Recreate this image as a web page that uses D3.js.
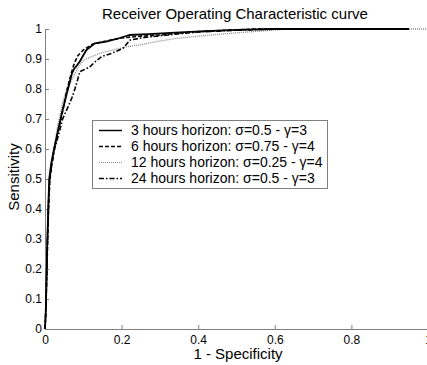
<!DOCTYPE html>
<html>
<head>
<meta charset="utf-8">
<script src="https://cdn.jsdelivr.net/npm/d3@7"></script>
<style>
  body { margin: 0; background: #fff; }
  text { font-family: "Liberation Sans", Arial, sans-serif; }
</style>
</head>
<body>
<div id="chart"></div>
<script>
const width = 427
const height = 365

// ROC curves (x = 1 - specificity, y = sensitivity)
const fpr3 = [0, 0.002, 0.004, 0.006, 0.009, 0.011, 0.016, 0.022, 0.034, 0.044, 0.052, 0.062, 0.07, 0.075, 0.09, 0.108, 0.13, 0.16, 0.195, 0.22, 0.27, 0.34, 0.42, 0.5, 0.6, 0.95]
const tpr3 = [0, 0.06, 0.17, 0.29, 0.42, 0.5, 0.55, 0.59, 0.66, 0.72, 0.76, 0.81, 0.85, 0.865, 0.89, 0.93, 0.952, 0.958, 0.97, 0.98, 0.983, 0.988, 0.993, 0.997, 1, 1]

const fpr6 = [0, 0.002, 0.004, 0.007, 0.01, 0.013, 0.018, 0.024, 0.032, 0.042, 0.05, 0.058, 0.066, 0.075, 0.085, 0.1, 0.125, 0.16, 0.2, 0.24, 0.3, 0.38, 0.46, 0.55, 0.95]
const tpr6 = [0, 0.05, 0.15, 0.3, 0.43, 0.5, 0.55, 0.6, 0.65, 0.7, 0.75, 0.8, 0.84, 0.88, 0.91, 0.93, 0.95, 0.96, 0.97, 0.975, 0.98, 0.99, 0.995, 1, 1]

const fpr12 = [0, 0.002, 0.004, 0.006, 0.008, 0.012, 0.018, 0.026, 0.033, 0.039, 0.047, 0.057, 0.074, 0.087, 0.1, 0.11, 0.144, 0.178, 0.213, 0.248, 0.29, 0.345, 0.4, 0.47, 0.55, 0.64, 1]
const tpr12 = [0, 0.06, 0.17, 0.3, 0.42, 0.5, 0.56, 0.62, 0.68, 0.71, 0.76, 0.8, 0.84, 0.874, 0.895, 0.902, 0.919, 0.93, 0.941, 0.947, 0.958, 0.969, 0.976, 0.984, 0.992, 1, 1]

const fpr24 = [0, 0.002, 0.004, 0.006, 0.009, 0.012, 0.018, 0.025, 0.036, 0.046, 0.06, 0.07, 0.078, 0.085, 0.091, 0.105, 0.117, 0.135, 0.148, 0.174, 0.204, 0.222, 0.26, 0.32, 0.4, 0.5, 0.6, 0.95]
const tpr24 = [0, 0.06, 0.16, 0.28, 0.41, 0.5, 0.55, 0.6, 0.65, 0.7, 0.74, 0.77, 0.8, 0.83, 0.858, 0.866, 0.874, 0.895, 0.908, 0.919, 0.936, 0.963, 0.972, 0.98, 0.99, 0.996, 1, 1]

const labels = [
    "3 hours horizon: σ=0.5 - γ=3",
    "6 hours horizon: σ=0.75 - γ=4",
    "12 hours horizon: σ=0.25 - γ=4",
    "24 hours horizon: σ=0.5 - γ=3"
]
const xTicks = [0, 0.2, 0.4, 0.6, 0.8, 1]
const yTicks = [0, 0.1, 0.2, 0.3, 0.4, 0.5, 0.6, 0.7, 0.8, 0.9, 1]

const series = [
    {x: fpr3, y: tpr3, color: "#000", dash: null, w: 1.8},
    {x: fpr6, y: tpr6, color: "#000", dash: "4,2", w: 1.6},
    {x: fpr12, y: tpr12, color: "#8a8a8a", dash: "1,1", w: 1.3},
    {x: fpr24, y: tpr24, color: "#000", dash: "5,2,1.5,2", w: 1.6}
]

const svg = d3.select("#chart").append("svg")
    .attr("width", width)
    .attr("height", height)

const xScale = d3.scaleLinear().domain([0, 1]).range([45, 428])
const yScale = d3.scaleLinear().domain([0, 1]).range([329, 29])

// axes (ticks point inwards, grey like the original)
svg.append("g")
    .attr("transform", `translate(0,${yScale(0)})`)
    .call(d3.axisBottom(xScale).tickValues(xTicks).tickSizeInner(-4).tickSizeOuter(0).tickPadding(6)
        .tickFormat(d => d3.format("")(d)))
svg.append("g")
    .attr("transform", `translate(${xScale(0)},0)`)
    .call(d3.axisLeft(yScale).tickValues(yTicks).tickSizeInner(-4).tickSizeOuter(0).tickPadding(3)
        .tickFormat(d => d3.format("")(d)))

svg.selectAll(".domain").attr("stroke", "#808080")
svg.selectAll(".tick line").attr("stroke", "#808080")
svg.selectAll(".tick text")
    .attr("fill", "#000")
    .style("font-size", "12px")
    .style("font-family", "Liberation Sans, Arial, sans-serif")

// curves
const line = d3.line()
    .x(d => xScale(d[0]))
    .y(d => yScale(d[1]))

svg.append("g").attr("id", "curves")
    .selectAll("path")
    .data([series[2], series[3], series[1], series[0]])
    .join("path")
    .attr("d", s => line(s.x.map((v, i) => [v, s.y[i]])))
    .attr("fill", "none")
    .attr("stroke", s => s.color)
    .attr("stroke-width", s => s.w)
    .attr("stroke-dasharray", s => s.dash)
    .attr("stroke-linejoin", "round")

// titles
svg.append("text")
    .attr("x", 235)
    .attr("y", 19)
    .attr("text-anchor", "middle")
    .style("font-size", "15px")
    .text("Receiver Operating Characteristic curve")

svg.append("text")
    .attr("x", 238)
    .attr("y", 359)
    .attr("text-anchor", "middle")
    .style("font-size", "15px")
    .text("1 - Specificity")

svg.append("text")
    .attr("transform", `translate(19,${yScale(0.5) - 2}) rotate(-90)`)
    .attr("text-anchor", "middle")
    .style("font-size", "15px")
    .text("Sensitivity")

// legend
const legend = svg.append("g").attr("id", "legend")
legend.append("rect")
    .attr("x", 92.5)
    .attr("y", 120.5)
    .attr("width", 235)
    .attr("height", 68)
    .attr("fill", "#fff")
    .attr("stroke", "#808080")

const rows = legend.selectAll(".row")
    .data(series)
    .join("g")
    .attr("class", "row")
    .attr("transform", (d, i) => `translate(0,${130.5 + i * 16})`)

rows.append("line")
    .attr("x1", 99)
    .attr("x2", 122)
    .attr("stroke", d => d.color)
    .attr("stroke-width", d => d.w * 0.8)
    .attr("stroke-dasharray", d => d.dash)

rows.append("text")
    .attr("x", 131)
    .attr("dy", "0.35em")
    .style("font-size", "14px")
    .text((d, i) => labels[i])
</script>
</body>
</html>
